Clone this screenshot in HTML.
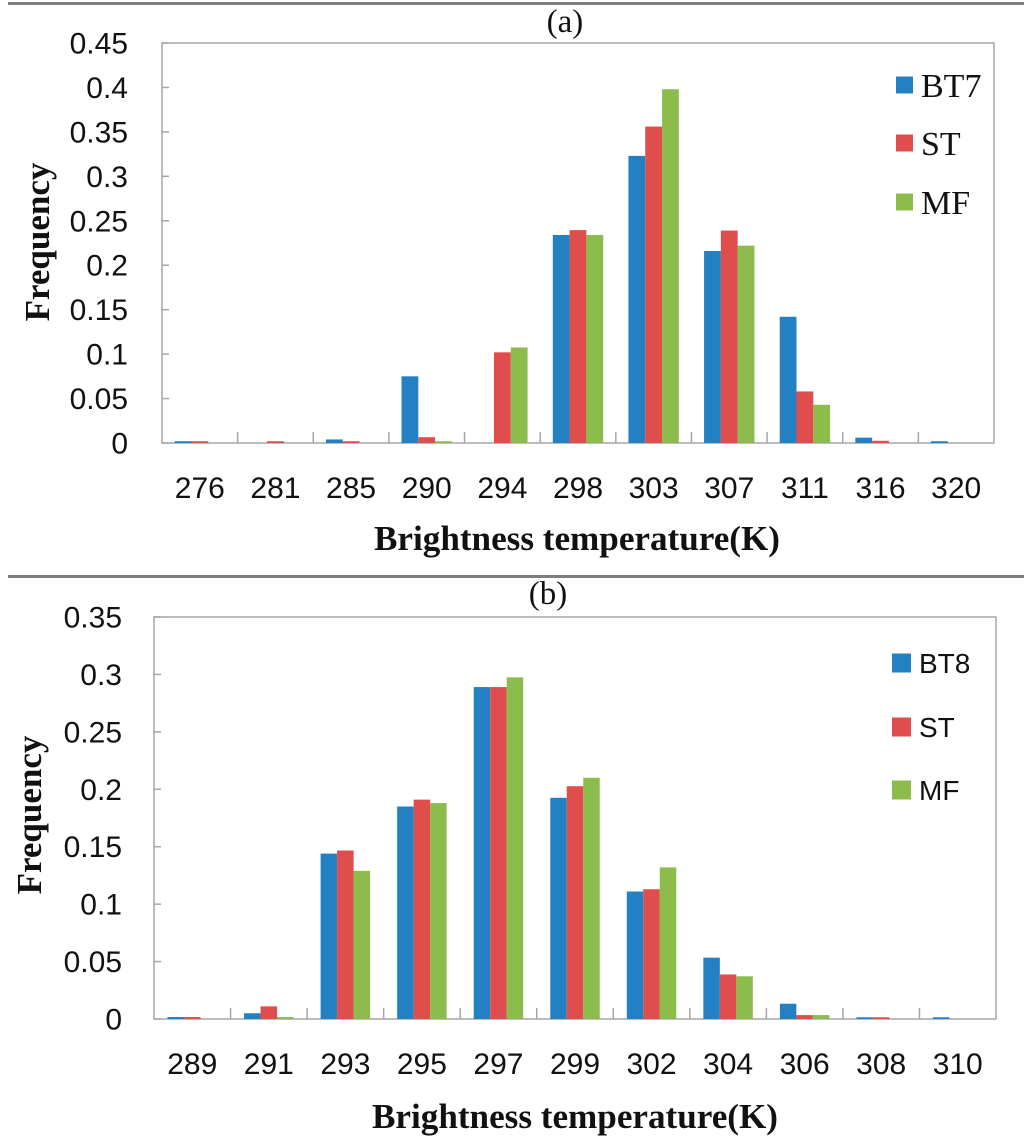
<!DOCTYPE html>
<html><head><meta charset="utf-8"><style>
html,body{margin:0;padding:0;background:#fff;}
svg{display:block;}
.tick{font-family:"Liberation Sans",sans-serif;font-size:30px;fill:#111;}
.serif{font-family:"Liberation Serif",serif;fill:#111;}
</style></head><body>
<svg id="fig" width="1024" height="1140" viewBox="0 0 1024 1140" xmlns="http://www.w3.org/2000/svg">
<rect x="0" y="0" width="1024" height="1140" fill="#fff"/>
<line x1="8" y1="3.5" x2="1024" y2="3.5" stroke="#7f7f7f" stroke-width="3"/>
<line x1="8" y1="576.5" x2="1024" y2="576.5" stroke="#7f7f7f" stroke-width="3"/>
</svg>
<script>
const catsA = ["276","281","285","290","294","298","303","307","311","316","320"];
const bt7A = [0.002,0,0.004,0.075,0,0.234,0.323,0.216,0.142,0.006,0.002];
const stA  = [0.002,0.002,0.002,0.0065,0.102,0.2395,0.356,0.239,0.058,0.0025,0];
const mfA  = [0,0,0,0.002,0.1075,0.234,0.398,0.222,0.043,0,0];
const yTicksA = ["0","0.05","0.1","0.15","0.2","0.25","0.3","0.35","0.4","0.45"];

const catsB = ["289","291","293","295","297","299","302","304","306","308","310"];
const bt8B = [0.0017,0.005,0.144,0.185,0.289,0.1926,0.111,0.0534,0.0133,0.0015,0.0015];
const stB  = [0.0017,0.011,0.1467,0.191,0.289,0.2027,0.113,0.0388,0.0034,0.0015,0];
const mfB  = [0,0.0017,0.129,0.188,0.2975,0.210,0.132,0.0372,0.0034,0,0];
const yTicksB = ["0","0.05","0.1","0.15","0.2","0.25","0.3","0.35"];

const seriesNamesA = ["BT7","ST","MF"];
const seriesNamesB = ["BT8","ST","MF"];
const colors = ["#2380c2","#e04d4d","#8cbd4c"];
const NS = "http://www.w3.org/2000/svg";
const svg = document.getElementById("fig");

function mk(tag, attrs, parent){
  const e = document.createElementNS(NS, tag);
  for (const k in attrs) e.setAttribute(k, attrs[k]);
  (parent||svg).appendChild(e);
  return e;
}

function drawChart(cfg){
  const g = mk("g", {});
  
  
  const L=cfg.left,R=cfg.right,T=cfg.top,B=cfg.bottom;
  const yMax = parseFloat(cfg.yTicks[cfg.yTicks.length-1]);
  const y = v => B - v/yMax*(B-T);
  const n = cfg.cats.length;
  const cw = (R-L)/n;
  const x = i => L + cw*(i+0.5);
  // frame
  const fr = mk("rect",{x:L,y:T,width:R-L,height:B-T,fill:"none",stroke:"#a6a6a6","stroke-width":1.5},g);
  
  
  // y ticks
  cfg.yTicks.forEach((t,i)=>{
    const v = parseFloat(t);
    const tl = mk("line",{x1:L,x2:L+7,y1:y(v),y2:y(v),stroke:"#a6a6a6","stroke-width":1.5},g);
    
    
    const tx = mk("text",{x:cfg.yLabelRight,y:y(v)+10.5,"text-anchor":"end",class:"tick"},g);
    tx.textContent = t;
    
    
  });
  // x category ticks
  for(let i=1;i<n;i++){
    const xx = L+cw*i;
    const tl = mk("line",{x1:xx,x2:xx,y1:B,y2:B-11,stroke:"#a6a6a6","stroke-width":1.5},g);
    
    
  }
  // bars
  const bw = cfg.barW;
  cfg.series.forEach((s,si)=>{
    s.forEach((v,i)=>{
      if(v<=0) return;
      const bx = x(i) - 1.5*bw + si*bw;
      const r = mk("rect",{x:bx,y:y(v),width:bw,height:B-y(v),fill:colors[si]},g);
      
      
    });
  });
  // x labels
  cfg.cats.forEach((c,i)=>{
    const tx = mk("text",{x:x(i),y:cfg.xLabelBase,"text-anchor":"middle",class:"tick"},g);
    tx.textContent = c;
    
    
  });
  // legend
  cfg.seriesNames.forEach((nm,si)=>{
    const cy = cfg.legY[si];
    const sq = mk("rect",{x:cfg.legX,y:cy-cfg.legSq/2,width:cfg.legSq,height:cfg.legSq,fill:colors[si]},g);
    
    
    const tx = mk("text",{x:cfg.legX+cfg.legSq+8,y:cy+cfg.legFont*0.35,
      "font-size":cfg.legFont,"font-family":cfg.legFamily,fill:"#111"},g);
    tx.textContent = nm;
    
    
  });
  // panel label
  const pl = mk("text",{x:cfg.panelX,y:cfg.panelY,"text-anchor":"middle",class:"serif","font-size":33},g);
  pl.textContent = cfg.panel;
  
  
  // axis titles
  const xt = mk("text",{x:cfg.xTitleX,y:cfg.xTitleBase,class:"serif","font-size":35,"font-weight":"bold",textLength:406,lengthAdjust:"spacingAndGlyphs"},g);
  xt.textContent = "Brightness temperature(K)";
  
  
  const yt = mk("text",{x:0,y:0,"text-anchor":"middle",class:"serif","font-size":35,"font-weight":"bold",
    transform:"translate("+(cfg.yTitleX+12)+","+cfg.yTitleY+") rotate(-90)"},g);
  yt.textContent = "Frequency";
  
  
}

drawChart({name:"chart-a",panel:"(a)",cats:catsA,series:[bt7A,stA,mfA],seriesNames:seriesNamesA,yTicks:yTicksA,
  left:162,right:994,top:43,bottom:443,barW:16.8,yLabelRight:128,xLabelBase:498,
  legX:896,legSq:17,legY:[85,143,202],legFont:34,legFamily:'"Liberation Serif",serif',
  panelX:565,panelY:32,xTitleX:374,xTitleBase:550,yTitleX:37,yTitleY:242});
drawChart({name:"chart-b",panel:"(b)",cats:catsB,series:[bt8B,stB,mfB],seriesNames:seriesNamesB,yTicks:yTicksB,
  left:154,right:996,top:617,bottom:1019,barW:16.5,yLabelRight:122,xLabelBase:1074,
  legX:892,legSq:19,legY:[663,727,790],legFont:28,legFamily:'"Liberation Sans",sans-serif',
  panelX:548,panelY:604,xTitleX:372,xTitleBase:1128,yTitleX:29,yTitleY:815});
</script>
</body></html>
